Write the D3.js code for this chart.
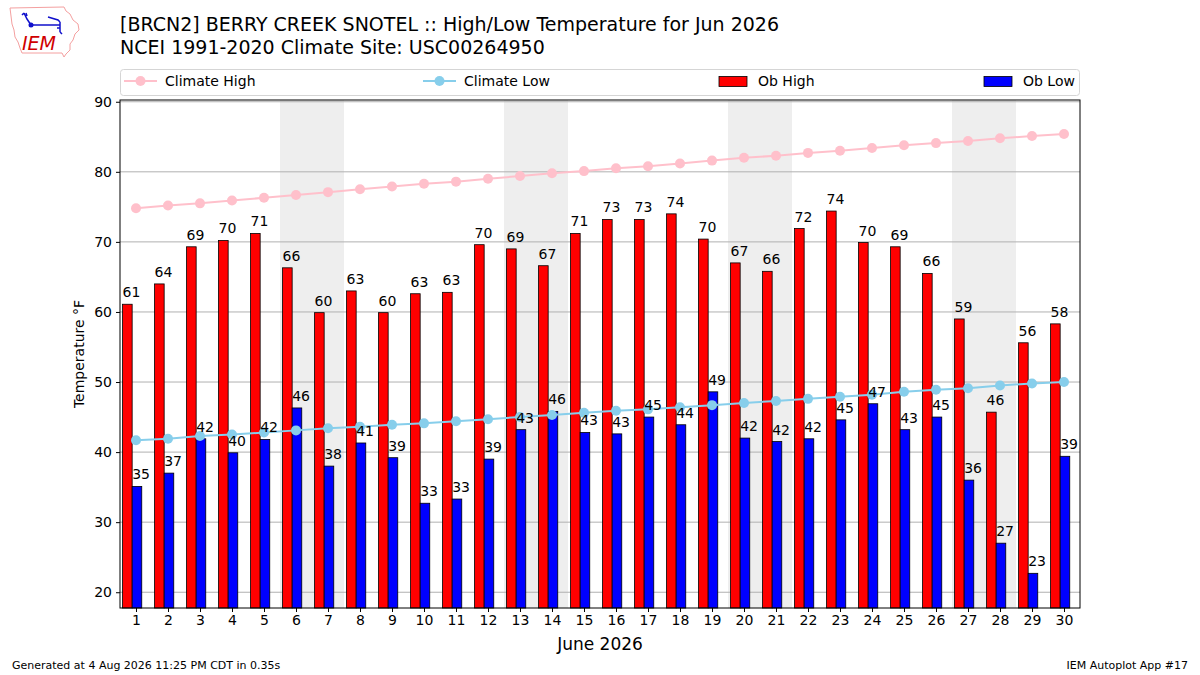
<!DOCTYPE html>
<html lang="en">
<head>
    <meta charset="utf-8">
    <title>BRCN2 High/Low Temperature Jun 2026</title>
    <script type="text/javascript" src="https://d3js.org/d3.v7.min.js"></script>
    <style>
        body { margin: 0; background: #fff; }
        text { font-family: "DejaVu Sans", sans-serif; }
    </style>
</head>
<body>
    <div id="chart"></div>

    <script type="text/javascript">

        // Days of the month
        var days = d3.range(1, 31);

        // Observed highs and lows (F)
        var obHigh = [61.1, 64.0, 69.3, 70.2, 71.2, 66.3, 59.9, 63.0, 59.9, 62.6,
                      62.8, 69.6, 69.0, 66.6, 71.2, 73.2, 73.2, 74.0, 70.4, 67.0,
                      65.8, 71.9, 74.4, 69.9, 69.3, 65.5, 59.0, 45.7, 55.6, 58.3];
        var obLow = [35.1, 37.0, 41.9, 39.9, 41.8, 46.3, 38.0, 41.3, 39.2, 32.7,
                     33.3, 39.0, 43.2, 45.8, 42.8, 42.6, 45.0, 43.9, 48.6, 42.0,
                     41.5, 41.9, 44.6, 46.9, 43.2, 45.0, 36.0, 27.0, 22.7, 39.4];

        // Climatology (NCEI 1991-2020)
        var climateHigh = [74.8, 75.2, 75.5, 75.9, 76.3, 76.7, 77.1, 77.5, 77.9, 78.3,
                           78.6, 79.0, 79.4, 79.8, 80.1, 80.5, 80.8, 81.2, 81.6, 82.0,
                           82.3, 82.7, 83.0, 83.4, 83.8, 84.1, 84.4, 84.8, 85.1, 85.4];
        var climateLow = [41.7, 41.9, 42.3, 42.5, 42.8, 43.1, 43.4, 43.6, 43.9, 44.1,
                          44.4, 44.7, 45.0, 45.3, 45.6, 45.9, 46.1, 46.4, 46.7, 47.0,
                          47.3, 47.6, 47.9, 48.2, 48.6, 48.9, 49.1, 49.5, 49.8, 50.0];

        // Weekend spans (Sat/Sun)
        var weekends = [6, 13, 20, 27];

        var yTicks = [20, 30, 40, 50, 60, 70, 80, 90];

        var width = 1200, height = 675;
        var plot = { left: 120, right: 1080, top: 100, bottom: 608 };

        var svg = d3.select("#chart").append("svg")
            .attr("width", width)
            .attr("height", height);

        var x = d3.scaleLinear().domain([0.5, 30.5]).range([plot.left, plot.right]);
        var y = d3.scaleLinear().domain([17.75, 90.25]).range([plot.bottom, plot.top]);
        var dx = x(1) - x(0);

        // Logo (rough IEM mark)
        var logo = svg.append("g");
        logo.append("path")
            .attr("d", "M10,8 L64,7 L66,11 L70,14 L73,20 L78,24 L79,30 L75,34 L73,40 L70,44 L70,50 L66,54 L64,57 L62,53 L22,53 L20,48 L18,42 L15,37 L14,30 L12,24 L11,16 Z")
            .attr("fill", "none").attr("stroke", "#f4a0a0").attr("stroke-width", 1);
        logo.append("path")
            .attr("d", "M31,25 L60,25 M31,25 L27,19 L24,13 M24,13 L22,15 M26,13 L27,16 M48,17 L58,20 L60,22 M60,22 L60,32 M60,28 L57,28 M60,32 L62,34")
            .attr("fill", "none").attr("stroke", "#1010cc").attr("stroke-width", 1.5);
        logo.append("circle").attr("cx", 31).attr("cy", 25).attr("r", 2.5).attr("fill", "#1010cc");
        logo.append("text").attr("x", 22).attr("y", 50)
            .attr("font-family", "Liberation Serif, serif").attr("font-style", "italic")
            .attr("font-size", 19).attr("fill", "#d00000").text("IEM");

        // Titles
        svg.append("text").attr("x", 120).attr("y", 31)
            .attr("font-size", 19).text("[BRCN2] BERRY CREEK SNOTEL :: High/Low Temperature for Jun 2026");
        svg.append("text").attr("x", 120).attr("y", 54)
            .attr("font-size", 19).text("NCEI 1991-2020 Climate Site: USC00264950");

        // Weekend shading
        svg.selectAll("rect.wknd")
            .data(weekends)
            .enter().append("rect")
            .attr("class", "wknd")
            .attr("x", function(d) { return x(d - 0.5); })
            .attr("y", plot.top)
            .attr("width", 2 * dx)
            .attr("height", plot.bottom - plot.top)
            .attr("fill", "#eeeeee");

        // Grid (under the bars)
        svg.selectAll("line.grid")
            .data(yTicks)
            .enter().append("line")
            .attr("class", "grid")
            .attr("x1", plot.left).attr("x2", plot.right)
            .attr("y1", function(d) { return y(d); })
            .attr("y2", function(d) { return y(d); })
            .attr("stroke", "#b0b0b0").attr("stroke-width", 1);

        // High bars
        svg.selectAll("rect.high")
            .data(days)
            .enter().append("rect")
            .attr("class", "high")
            .attr("x", function(d) { return x(d - 0.42); })
            .attr("y", function(d, i) { return y(obHigh[i]); })
            .attr("width", 0.3 * dx)
            .attr("height", function(d, i) { return plot.bottom - y(obHigh[i]); })
            .attr("fill", "#ff0000").attr("stroke", "#000").attr("stroke-width", 0.8);

        // Low bars
        svg.selectAll("rect.low")
            .data(days)
            .enter().append("rect")
            .attr("class", "low")
            .attr("x", function(d) { return x(d - 0.12); })
            .attr("y", function(d, i) { return y(obLow[i]); })
            .attr("width", 0.3 * dx)
            .attr("height", function(d, i) { return plot.bottom - y(obLow[i]); })
            .attr("fill", "#0000ff").attr("stroke", "#000").attr("stroke-width", 0.8);

        // Climate lines
        function climateLine(values, color) {
            var line = d3.line()
                .x(function(d, i) { return x(days[i]); })
                .y(function(d) { return y(d); });
            svg.append("path")
                .datum(values)
                .attr("d", line)
                .attr("fill", "none")
                .attr("stroke", color)
                .attr("stroke-width", 2);
            svg.selectAll(null)
                .data(values)
                .enter().append("circle")
                .attr("cx", function(d, i) { return x(days[i]); })
                .attr("cy", function(d) { return y(d); })
                .attr("r", 5)
                .attr("fill", color);
        }
        climateLine(climateHigh, "#ffc0cb");
        climateLine(climateLow, "#87ceeb");

        // Bar value labels (on top)
        svg.selectAll("text.hl")
            .data(days)
            .enter().append("text")
            .attr("class", "hl")
            .attr("x", function(d) { return x(d - 0.42); })
            .attr("y", function(d, i) { return y(obHigh[i]) - 7; })
            .attr("font-size", 14)
            .text(function(d, i) { return Math.round(obHigh[i]); });

        svg.selectAll("text.ll")
            .data(days)
            .enter().append("text")
            .attr("class", "ll")
            .attr("x", function(d) { return x(d - 0.12); })
            .attr("y", function(d, i) { return y(obLow[i]) - 7; })
            .attr("font-size", 14)
            .text(function(d, i) { return Math.round(obLow[i]); });

        // Axes
        var xAxis = d3.axisBottom(x).tickValues(days).tickSize(4).tickPadding(3).tickFormat(d3.format("d"));
        var gx = svg.append("g").attr("transform", "translate(0," + plot.bottom + ")").call(xAxis);
        gx.select(".domain").remove();
        gx.selectAll("text").attr("font-size", 14).attr("font-family", "DejaVu Sans").attr("fill", "#000");

        var yAxis = d3.axisLeft(y).tickValues(yTicks).tickSize(4).tickPadding(4);
        var gy = svg.append("g").attr("transform", "translate(" + plot.left + ",0)").call(yAxis);
        gy.select(".domain").remove();
        gy.selectAll("text").attr("font-size", 14).attr("font-family", "DejaVu Sans").attr("fill", "#000");

        svg.append("rect")
            .attr("x", plot.left).attr("y", plot.top)
            .attr("width", plot.right - plot.left).attr("height", plot.bottom - plot.top)
            .attr("fill", "none").attr("stroke", "#000").attr("stroke-width", 1);

        // Axis labels
        svg.append("text")
            .attr("transform", "translate(84," + ((plot.top + plot.bottom) / 2) + ") rotate(-90)")
            .attr("text-anchor", "middle")
            .attr("font-size", 14)
            .text("Temperature °F");
        svg.append("text")
            .attr("x", (plot.left + plot.right) / 2).attr("y", 650)
            .attr("text-anchor", "middle")
            .attr("font-size", 17)
            .text("June 2026");

        // Legend
        var legend = svg.append("g");
        legend.append("rect")
            .attr("x", 120.5).attr("y", 69.5).attr("width", 959).attr("height", 26).attr("rx", 3)
            .attr("fill", "#fff").attr("stroke", "#d5d5d5");

        var lineItems = [
            { label: "Climate High", color: "#ffc0cb", x0: 124 },
            { label: "Climate Low", color: "#87ceeb", x0: 423 }
        ];
        lineItems.forEach(function(d) {
            legend.append("line").attr("x1", d.x0).attr("x2", d.x0 + 33)
                .attr("y1", 81).attr("y2", 81).attr("stroke", d.color).attr("stroke-width", 2);
            legend.append("circle").attr("cx", d.x0 + 16.5).attr("cy", 81).attr("r", 5).attr("fill", d.color);
            legend.append("text").attr("x", d.x0 + 41).attr("y", 86).attr("font-size", 14).text(d.label);
        });
        var barItems = [
            { label: "Ob High", color: "#ff0000", x0: 719 },
            { label: "Ob Low", color: "#0000ff", x0: 984 }
        ];
        barItems.forEach(function(d) {
            legend.append("rect").attr("x", d.x0).attr("y", 76.5).attr("width", 28).attr("height", 10)
                .attr("fill", d.color).attr("stroke", "#000").attr("stroke-width", 0.8);
            legend.append("text").attr("x", d.x0 + 39).attr("y", 86).attr("font-size", 14).text(d.label);
        });

        // Footer
        svg.append("text").attr("x", 12).attr("y", 669).attr("font-size", 11)
            .text("Generated at 4 Aug 2026 11:25 PM CDT in 0.35s");
        svg.append("text").attr("x", 1188).attr("y", 669).attr("font-size", 11)
            .attr("text-anchor", "end").text("IEM Autoplot App #17");

    </script>
</body>
</html>
